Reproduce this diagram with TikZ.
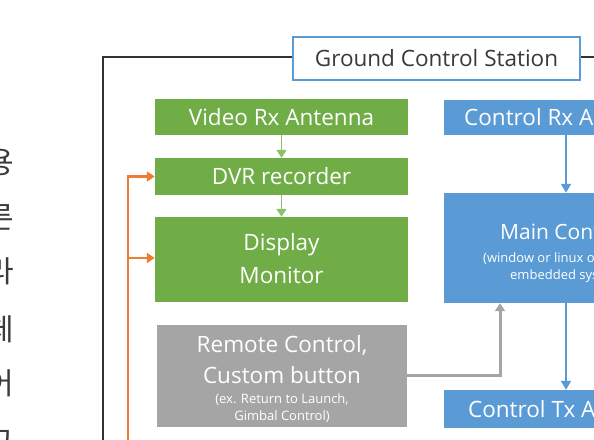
\documentclass[tikz,border=0pt]{standalone}
\usepackage{fontspec}
\setmainfont{Open Sans}
\newfontfamily\kofont{Noto Sans CJK KR}
\usetikzlibrary{arrows.meta}
\definecolor{gr}{HTML}{70AD47}
\definecolor{grl}{HTML}{8CC168}
\definecolor{bl}{HTML}{5B9BD5}
\definecolor{gy}{HTML}{A5A5A5}
\definecolor{og}{HTML}{ED7D31}
\definecolor{tx}{HTML}{3A3A3A}
\definecolor{fr}{HTML}{333333}
\begin{document}
\begin{tikzpicture}[x=1pt,y=-1pt,
  gbox/.style={fill=gr, draw=none, inner sep=0pt},
  bbox/.style={fill=bl, draw=none, inner sep=0pt},
  ybox/.style={fill=gy, draw=none, inner sep=0pt},
  big/.style={text=white, inner sep=0pt, font=\fontsize{22.5}{26}\selectfont},
  mid/.style={text=white, inner sep=0pt, font=\fontsize{21}{24}\selectfont},
  small/.style={text=white, inner sep=0pt, font=\fontsize{13}{15}\selectfont},
  kor/.style={text=tx, inner sep=0pt, font=\kofont\fontsize{30}{32}\selectfont},
  garrow/.style={draw=grl, line width=1.6pt, -{Triangle[width=10pt,length=8pt]}},
  barrow/.style={draw=bl, line width=1.8pt, -{Triangle[width=10pt,length=9pt]}},
  yarrow/.style={draw=gy, line width=3pt, -{Triangle[width=10pt,length=8pt]}},
  oarrow/.style={draw=og, line width=2.4pt, -{Triangle[width=10pt,length=8pt]}},
  frame/.style={draw=fr, line width=1.8pt}
]
\useasboundingbox (0,0) rectangle (594,439);
\clip (0,0) rectangle (594,439);
\fill[white] (0,0) rectangle (594,439);

% Korean text fragments at the left edge
\node[kor] (k1) at (0,162) {용};
\node[kor] (k2) at (0,217) {른};
\node[kor] (k3) at (0,271) {라};
\node[kor] (k4) at (0,329) {체};
\node[kor] (k5) at (0,383) {어};
\node[kor] (k6) at (0,443) {구};

% title
\node[draw=bl, line width=1.8pt, fill=white, minimum width=287pt, minimum height=43pt, inner sep=0pt,
      text=tx, font=\fontsize{22.5}{26}\selectfont] (gcs) at (436.5,58.5) {Ground Control Station};
\coordinate (fbl) at (103,445);
\coordinate (ftl) at (103,57);
\coordinate (fr) at (600,57);
\draw[frame] (fbl) -- (ftl) -- (ftl -| gcs.west);
\draw[frame] (gcs.east |- fr) -- (fr);

% green column
\node[gbox, minimum width=253pt, minimum height=36pt] (vrx) at (281.5,117) {};
\node[big] (vrxt) at (vrx) {Video Rx Antenna};
\node[gbox, minimum width=253pt, minimum height=37pt] (dvr) at (281.5,176.5) {};
\node[big] (dvrt) at (dvr) {DVR recorder};
\node[gbox, minimum width=253pt, minimum height=85pt] (disp) at (281.5,259.5) {};
\node[big] (dispt1) at (281.5,245) {Display};
\node[big] (dispt2) at (281.5,275) {Monitor};

% gray box
\node[ybox, minimum width=250pt, minimum height=102pt] (rc) at (282,376) {};
\node[big] (rct1) at (282,345) {Remote Control,};
\node[big] (rct2) at (282,375) {Custom button};
\node[small] (rct3) at (282,400) {(ex. Return to Launch,};
\node[small] (rct4) at (282,417) {Gimbal Control)};

% blue column
\node[bbox, minimum width=253pt, minimum height=35pt] (crx) at (570.5,117.5) {};
\node[big] (crxt) at (566,117.5) {Control Rx Antenna};
\node[bbox, minimum width=253pt, minimum height=110pt] (main) at (570.5,248) {};
\node[mid, anchor=west] (maint) at (500,232) {Main Controller};
\node[small, anchor=west] (mains1) at (483,259) {(window or linux os or};
\node[small, anchor=west] (mains2) at (510,276) {embedded system)};
\node[bbox, minimum width=253pt, minimum height=38pt] (ctx) at (570.5,409) {};
\node[big] (ctxt) at (569,409) {Control Tx Antenna};

% arrows
\draw[garrow] (vrx.south) -- (dvr.north);
\draw[garrow] (dvr.south) -- (disp.north);
\coordinate (bx) at (566,0);
\draw[barrow] (crx.south -| bx) -- (main.north -| bx);
\draw[barrow] (main.south -| bx) -- (ctx.north -| bx);
\coordinate (gturn) at (500,375);
\draw[yarrow] (rc.east |- gturn) -- (gturn) -- (gturn |- main.south);
\coordinate (obot) at (128,445);
\coordinate (otop) at (128,176.5);
\coordinate (omid) at (128,258);
\draw[oarrow] (obot) -- (otop) -- (dvr.west |- otop);
\draw[oarrow] (omid) -- (disp.west |- omid);
\end{tikzpicture}
\end{document}
